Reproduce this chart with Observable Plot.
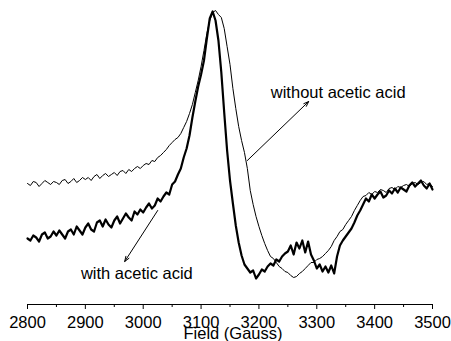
<!DOCTYPE html>
<html><head><meta charset="utf-8">
<script src="https://cdn.jsdelivr.net/npm/d3@7"></script>
<script src="https://cdn.jsdelivr.net/npm/@observablehq/plot@0.6"></script>
<style>html,body{margin:0;padding:0;background:#fff} svg{display:block}</style>
</head><body><div id="chart"></div>
<script>
const fields = [
2800,2805,2810,2815,2820,2825,2830,2835,2840,2845,
2850,2855,2860,2865,2870,2875,2880,2885,2890,2895,
2900,2905,2910,2915,2920,2925,2930,2935,2940,2945,
2950,2955,2960,2965,2970,2975,2980,2985,2990,2995,
3000,3005,3010,3015,3020,3025,3030,3035,3040,3045,
3050,3055,3060,3065,3070,3075,3080,3085,3090,3095,
3100,3105,3110,3115,3120,3125,3130,3135,3140,3145,
3150,3155,3160,3165,3170,3175,3180,3185,3190,3195,
3200,3205,3210,3215,3220,3225,3230,3235,3240,3245,
3250,3255,3260,3265,3270,3275,3280,3285,3290,3295,
3300,3305,3310,3315,3320,3325,3330,3335,3340,3345,
3350,3355,3360,3365,3370,3375,3380,3385,3390,3395,
3400,3405,3410,3415,3420,3425,3430,3435,3440,3445,
3450,3455,3460,3465,3470,3475,3480,3485,3490,3495,
3500];
const withAcid = [
66,64,69,67,63,70,72,66,68,73,
69,74,70,66,73,75,70,78,74,70,
77,81,75,73,82,84,78,85,80,77,
84,88,81,86,91,87,84,93,90,95,
92,97,101,96,99,106,103,108,112,110,
120,123,130,136,147,156,169,187,203,218,
230,244,266,286,293,284,264,232,192,154,
124,101,79,62,49,40,36,32,34,26,
30,35,33,38,41,39,45,43,48,51,
53,59,50,62,56,64,52,63,50,44,
36,40,33,38,32,39,31,48,59,64,
68,72,76,82,89,94,100,106,103,110,
106,110,113,107,109,114,111,116,112,117,
115,113,119,122,118,121,124,119,116,121,
115];
const withoutAcid = [
121,119,123,122,118,121,124,122,120,123,
122,120,124,125,121,123,126,122,124,127,
125,127,124,128,130,126,129,131,128,130,
132,129,133,134,131,135,133,136,138,136,
139,141,140,144,143,147,149,152,155,159,
162,165,167,171,177,183,191,200,212,224,
238,254,271,284,292,294,290,287,276,258,
240,216,196,178,164,152,136,114,100,88,
78,69,61,54,48,46,42,38,36,33,
32,29,27,28,31,33,36,39,42,42,
45,46,48,51,54,58,64,68,73,75,
80,84,88,94,99,104,108,109,112,110,
113,112,115,114,112,116,117,115,118,117,
119,120,118,121,122,120,122,123,120,121,
118];
const majorTicks = [2800,2900,3000,3100,3200,3300,3400,3500];
const minorTicks = [2850,2950,3050,3150,3250,3350,3450];
const axisTitle = "Field (Gauss)";
const annotations = [
  {text: "without acetic acid", field: 3337, value: 212},
  {text: "with acetic acid", field: 2989, value: 31}
];
const pointers = [
  {x1: 3180, y1: 144, x2: 3286, y2: 203},
  {x1: 3025, y1: 94, x2: 2968, y2: 43}
];

const rows = fields.map((f, i) => ({field: f, withA: withAcid[i], without: withoutAcid[i]}));
const font = "'Liberation Sans', Arial, sans-serif";

const chart = Plot.plot({
  width: 451, height: 341,
  marginLeft: 27, marginRight: 19, marginTop: 4, marginBottom: 37,
  style: {fontFamily: font, background: "white", color: "black", overflow: "visible"},
  x: {domain: [2800, 3500]},
  y: {domain: [0, 300], axis: null},
  marks: [
    Plot.ruleY([0], {stroke: "black", strokeWidth: 1.2}),
    Plot.axisX(majorTicks, {tickSize: 5, tickPadding: 7, tickFormat: d => String(d), fontSize: 16.5, label: null, stroke: "black", fill: "black"}),
    Plot.axisX(minorTicks, {tickSize: 3, text: null, label: null, stroke: "black"}),
    Plot.text([axisTitle], {frameAnchor: "bottom", dy: 29, dx: 3, text: d => d, fontSize: 16.5, lineAnchor: "middle", fill: "black"}),
    Plot.line(rows, {x: "field", y: "without", stroke: "black", strokeWidth: 1}),
    Plot.line(rows, {x: "field", y: "withA", stroke: "black", strokeWidth: 2.2}),
    Plot.arrow(pointers, {x1: "x1", y1: "y1", x2: "x2", y2: "y2", stroke: "black", strokeWidth: 1, headLength: 8, headAngle: 40}),
    Plot.text(annotations, {x: "field", y: "value", text: "text", fontSize: 16.5, lineAnchor: "middle", fill: "black"})
  ]
});
document.getElementById("chart").appendChild(chart);
</script>
</body></html>
